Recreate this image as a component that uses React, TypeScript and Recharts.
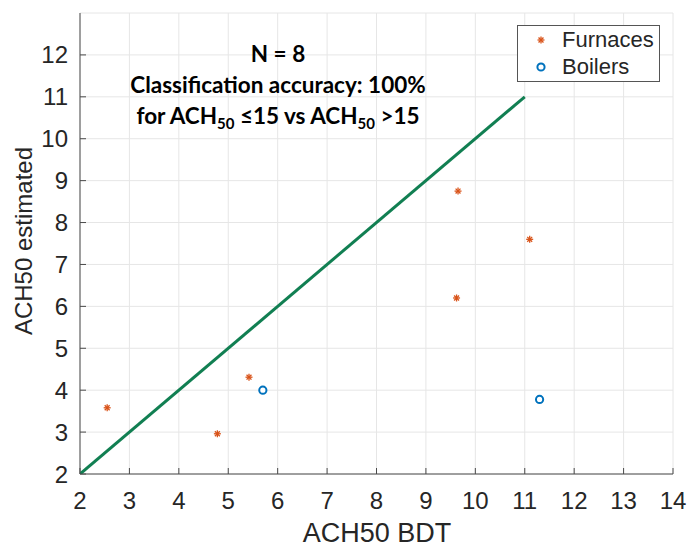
import { ScatterChart, Scatter, XAxis, YAxis, CartesianGrid, Legend } from 'recharts'

// values
const xTicks = [2, 3, 4, 5, 6, 7, 8, 9, 10, 11, 12, 13, 14]
const yTicks = [2, 3, 4, 5, 6, 7, 8, 9, 10, 11, 12]

const furnaceX = [2.55, 4.78, 5.42, 9.65, 9.62, 11.1]
const furnaceY = [3.58, 2.96, 4.31, 8.75, 6.2, 7.6]

const boilerX = [5.7, 11.3]
const boilerY = [4.0, 3.78]

const diagX = [2, 11]
const diagY = [2, 11]

const furnaces = furnaceX.map((x, i) => ({ x, y: furnaceY[i] }))
const boilers = boilerX.map((x, i) => ({ x, y: boilerY[i] }))
const diagonal = diagX.map((x, i) => ({ x, y: diagY[i] }))

const ORANGE = '#d95319'
const BLUE = '#0072bd'
const GREEN = '#117f52'
const AXIS = '#4a4a4a'
const TXT = '#262626'
const FONT = '"Liberation Sans", Arial, sans-serif'

const Star = ({ cx, cy }: any) => {
  const r = 3.5
  return (
    <g stroke={ORANGE} strokeWidth={1.3}>
      <line x1={cx - r} y1={cy} x2={cx + r} y2={cy} />
      <line x1={cx} y1={cy - r} x2={cx} y2={cy + r} />
      <line x1={cx - r * 0.7} y1={cy - r * 0.7} x2={cx + r * 0.7} y2={cy + r * 0.7} />
      <line x1={cx - r * 0.7} y1={cy + r * 0.7} x2={cx + r * 0.7} y2={cy - r * 0.7} />
    </g>
  )
}

const Ring = ({ cx, cy }: any) => (
  <circle cx={cx} cy={cy} r={3.6} fill="#fff" stroke={BLUE} strokeWidth={2} />
)

const BottomTick = ({ x, y, payload }: any) => (
  <g>
    <line x1={x} y1={y} x2={x} y2={y - 6} stroke={AXIS} />
    <text x={x} y={y + 35} textAnchor="middle" fontSize={24} fill={TXT} fontFamily={FONT}>
      {payload.value}
    </text>
  </g>
)

const LeftTick = ({ x, y, payload }: any) => (
  <g>
    <line x1={x} y1={y} x2={x + 6} y2={y} stroke={AXIS} />
    <text x={x - 12} y={y + 8.5} textAnchor="end" fontSize={24} fill={TXT} fontFamily={FONT}>
      {payload.value}
    </text>
  </g>
)

const TopTick = ({ x, y }: any) => <line x1={x} y1={y} x2={x} y2={y + 6} stroke={AXIS} />
const RightTick = ({ x, y }: any) => <line x1={x} y1={y} x2={x - 6} y2={y} stroke={AXIS} />

const renderLegend = () => (
  <div
    style={{
      width: 143,
      height: 57,
      border: '1.5px solid #555',
      background: '#fff',
      fontFamily: FONT,
      fontSize: 22,
      color: TXT,
      boxSizing: 'border-box',
    }}
  >
    {[
      { name: 'Furnaces', shape: <Star cx={23} cy={14} /> },
      { name: 'Boilers', shape: <Ring cx={23} cy={14} /> },
    ].map((e) => (
      <div key={e.name} style={{ display: 'flex', alignItems: 'center', height: 26, marginTop: 1 }}>
        <svg width={44} height={28}>{e.shape}</svg>
        <span>{e.name}</span>
      </div>
    ))}
  </div>
)

const Sub = ({ children }: any) => (
  <span style={{ fontSize: 15, verticalAlign: -5 }}>{children}</span>
)

export default function App() {
  return (
    <div style={{ position: 'absolute', left: 0, top: 0, width: 688, height: 548, background: '#fff' }}>
      <ScatterChart width={688} height={548} margin={{ top: 13, right: 15, bottom: 0, left: 30 }}>
        <CartesianGrid stroke="#e6e6e6" />
        <XAxis
          type="number"
          dataKey="x"
          domain={[2, 14]}
          ticks={xTicks}
          allowDataOverflow
          height={74}
          tickSize={0}
          tickMargin={0}
          tickLine={false}
          stroke={AXIS}
          tick={<BottomTick />}
          label={() => (
            <text x={377} y={542} textAnchor="middle" fontSize={27} fill={TXT} fontFamily={FONT}>
              ACH50 BDT
            </text>
          )}
        />
        <XAxis
          xAxisId="top"
          orientation="top"
          type="number"
          domain={[2, 14]}
          ticks={xTicks}
          allowDataOverflow
          height={0}
          tickSize={0}
          tickLine={false}
          stroke={AXIS}
          tick={<TopTick />}
        />
        <YAxis
          type="number"
          dataKey="y"
          domain={[2, 13]}
          ticks={yTicks}
          allowDataOverflow
          width={50}
          tickSize={0}
          tickMargin={0}
          tickLine={false}
          stroke={AXIS}
          tick={<LeftTick />}
          label={() => (
            <text
              x={32}
              y={241}
              textAnchor="middle"
              fontSize={24}
              fill={TXT}
              fontFamily={FONT}
              transform="rotate(-90 32 241)"
            >
              ACH50 estimated
            </text>
          )}
        />
        <YAxis
          yAxisId="right"
          orientation="right"
          type="number"
          domain={[2, 13]}
          ticks={yTicks}
          allowDataOverflow
          width={0}
          tickSize={0}
          tickLine={false}
          stroke={AXIS}
          tick={<RightTick />}
        />
        <Legend
          layout="horizontal"
          verticalAlign="middle"
          align="center"
          content={renderLegend}
          wrapperStyle={{ position: 'absolute', left: 517, top: 25, width: 143, height: 57 }}
        />
        <Scatter
          name="diag"
          data={diagonal}
          line={{ stroke: GREEN, strokeWidth: 3 }}
          shape={() => null}
          legendType="none"
          isAnimationActive={false}
        />
        <Scatter name="Furnaces" data={furnaces} shape={<Star />} isAnimationActive={false} />
        <Scatter name="Boilers" data={boilers} shape={<Ring />} isAnimationActive={false} />
      </ScatterChart>
      <div
        style={{
          position: 'absolute',
          left: 108,
          top: 38,
          width: 340,
          textAlign: 'center',
          fontFamily: 'Lato, sans-serif',
          fontWeight: 700,
          fontSize: 22.5,
          lineHeight: '31px',
          color: '#000',
        }}
      >
        <div>N = 8</div>
        <div>Classification accuracy: 100%</div>
        <div>
          for ACH<Sub>50</Sub> ≤15 vs ACH<Sub>50</Sub> &gt;15
        </div>
      </div>
    </div>
  )
}
